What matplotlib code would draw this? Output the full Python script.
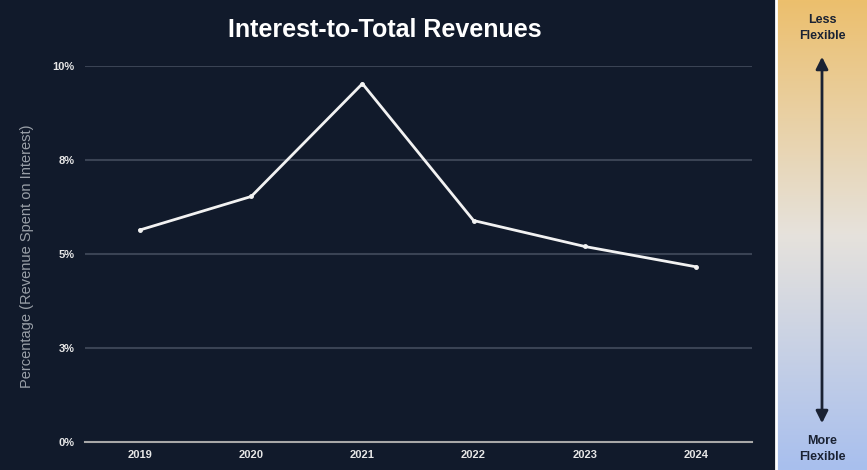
import numpy as np
import matplotlib
matplotlib.use("Agg")
import matplotlib.pyplot as plt
from matplotlib.colors import LinearSegmentedColormap

plt.rcParams['font.family'] = ['Liberation Sans', 'DejaVu Sans']

years = ['2019', '2020', '2021', '2022', '2023', '2024']
ratio = [5.64, 6.53, 9.53, 5.89, 5.20, 4.66]   # % of revenue spent on interest
y_ticks = [0, 2.5, 5, 7.5, 10]
y_tick_labels = ['0%', '3%', '5%', '8%', '10%']

bg = '#111a2b'
W, H = 867, 470
fig = plt.figure(figsize=(W / 100, H / 100), dpi=100, facecolor=bg)

# main chart
ax = fig.add_axes([84.5 / W, 1 - 442 / H, 667 / W, (442 - 66) / H])
ax.set_facecolor(bg)
x = np.arange(len(years))
ax.plot(x, ratio, color='#f2f2f2', lw=2, marker='o', ms=2.5, zorder=3)
ax.set_xlim(-0.5, len(years) - 0.5)
ax.set_ylim(0, 10)
ax.set_yticks(y_ticks)
ax.set_yticklabels(y_tick_labels)
ax.set_xticks(x)
ax.set_xticklabels(years)
ax.tick_params(length=0, colors='#e6e6e6', labelsize=8)
ax.tick_params(axis='y', pad=7)
ax.tick_params(axis='x', pad=6)
for lab in ax.get_xticklabels() + ax.get_yticklabels():
    lab.set_fontweight('bold')
for t in y_ticks[1:]:
    ax.axhline(t, color='#3a4354', lw=1.5, zorder=1)
ax.axhline(0, color='#a8a8a8', lw=1.5, zorder=1, clip_on=False)
for s in ax.spines.values():
    s.set_visible(False)

fig.text(385 / W, 1 - 30 / H, 'Interest-to-Total Revenues', color='white',
         fontsize=18, fontweight='bold', ha='center', va='center')
fig.text(27 / W, 1 - 256 / H, 'Percentage (Revenue Spent on Interest)',
         color='#9aa0a8', fontsize=10.5, rotation=90, ha='center', va='center')

# separator + flexibility scale
fig.add_artist(plt.Line2D([776 / W, 776 / W], [0, 1], color='white', lw=2))
side = fig.add_axes([777 / W, 0, (W - 777) / W, 1])
cmap = LinearSegmentedColormap.from_list('flex', ['#ecbf6d', '#e6e2dc', '#a8bfee'])
grad = np.linspace(0, 1, 256).reshape(-1, 1)
side.imshow(grad, cmap=cmap, aspect='auto', extent=[0, 1, 0, 1], origin='upper')
side.set_xlim(0, 1)
side.set_ylim(0, 1)
side.axis('off')
side.annotate('', xy=(0.5, 1 - 54 / H), xytext=(0.5, 1 - 426 / H),
              arrowprops=dict(arrowstyle='<|-|>', color='#1a2233', lw=2,
                              mutation_scale=18))
side.text(0.5, 1 - 28 / H, 'Less\nFlexible', ha='center', va='center',
          fontsize=9, fontweight='bold', color='#1a2233', linespacing=1.35)
side.text(0.5, 1 - 449 / H, 'More\nFlexible', ha='center', va='center',
          fontsize=9, fontweight='bold', color='#1a2233', linespacing=1.35)

fig.savefig('out.png', dpi=100, facecolor=bg)
